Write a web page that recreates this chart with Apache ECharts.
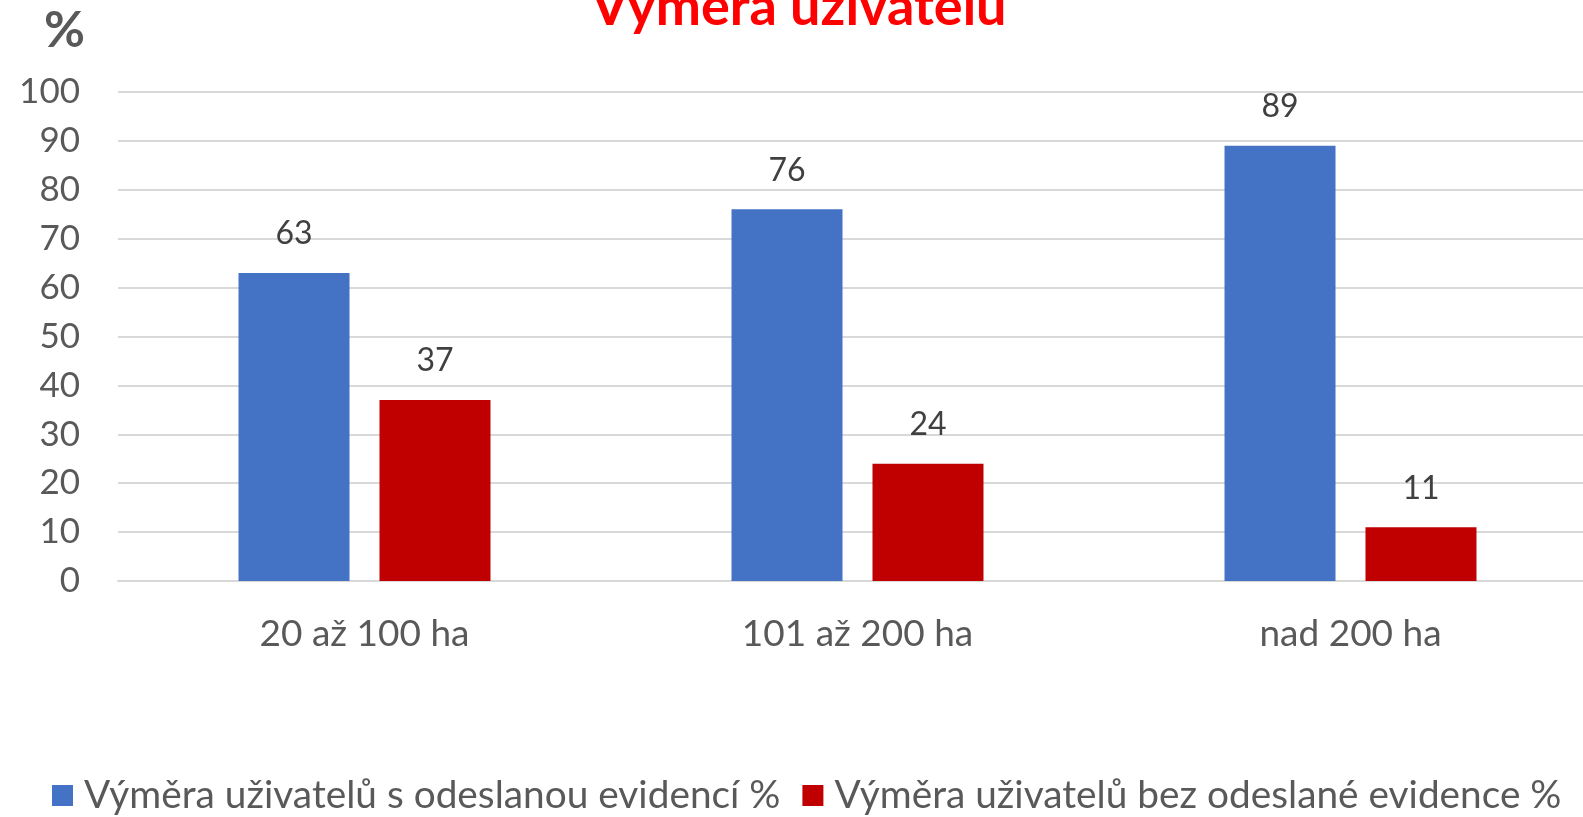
<!DOCTYPE html>
<html>
<head>
<meta charset="utf-8">
<script src="https://cdn.jsdelivr.net/npm/echarts@6/dist/echarts.min.js"></script>
<style>
  html, body { margin: 0; padding: 0; background: #fff; }
  #chart { width: 1583px; height: 817px; }
</style>
</head>
<body>
<div id="chart"></div>
<script>
const categories = ["20 až 100 ha", "101 až 200 ha", "nad 200 ha"];
const seriesNames = [
  "Výměra uživatelů s odeslanou evidencí %",
  "Výměra uživatelů bez odeslané evidence %",
];
const sentValues = [63, 76, 89];
const notSentValues = [37, 24, 11];

const font = "Lato, 'Open Sans', sans-serif";
const chart = echarts.init(document.getElementById("chart"));

chart.setOption({
  backgroundColor: "#fff",
  animation: false,
  textStyle: { fontFamily: font },
  title: {
    text: "Výměra uživatelů",
    left: 586,
    top: -24,
    textStyle: { color: "#ff0000", fontSize: 54, fontWeight: "bold", fontFamily: font },
  },
  graphic: [
    {
      type: "text",
      left: 44,
      top: 6,
      style: { text: "%", fontSize: 50, fontWeight: "bold", fill: "#595959", fontFamily: font },
    },
  ],
  legend: {
    bottom: -3,
    left: 47,
    itemWidth: 21,
    itemHeight: 21,
    itemGap: 22,
    icon: "rect",
    textStyle: { fontSize: 38.8, color: "#595959", fontFamily: font, padding: [0, 0, 0, 6] },
    data: seriesNames,
  },
  grid: { left: 118, width: 1479, top: 92, bottom: 236, outerBoundsMode: "none" },
  xAxis: {
    type: "category",
    data: categories,
    axisLine: { lineStyle: { color: "#d9d9d9", width: 2 } },
    axisTick: { show: false },
    axisLabel: { fontSize: 37, color: "#595959", margin: 35 },
  },
  yAxis: {
    type: "value",
    min: 0,
    max: 100,
    interval: 10,
    axisLine: { show: false },
    axisTick: { show: false },
    axisLabel: { fontSize: 35, color: "#595959", margin: 38 },
    splitLine: { lineStyle: { color: "#d9d9d9", width: 2 } },
  },
  series: [
    {
      name: seriesNames[0],
      type: "bar",
      data: sentValues,
      barWidth: 111,
      barGap: "27%",
      itemStyle: { color: "#4472c4" },
      label: { show: true, position: "top", distance: 23, fontSize: 32, color: "#404040" },
    },
    {
      name: seriesNames[1],
      type: "bar",
      data: notSentValues,
      barWidth: 111,
      barGap: "27%",
      itemStyle: { color: "#c00000" },
      label: { show: true, position: "top", distance: 23, fontSize: 32, color: "#404040" },
    },
  ],
});
</script>
</body>
</html>
